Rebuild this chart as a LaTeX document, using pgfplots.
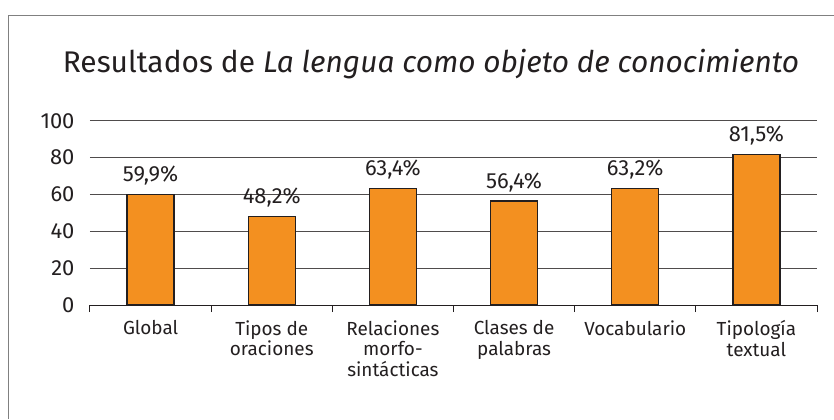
\documentclass[border=0pt]{standalone}
\usepackage{pgfplots}
\pgfplotsset{compat=1.18}
\usepackage{fontspec}
\setmainfont{Fira Sans}
\definecolor{barorange}{HTML}{F39020}
\definecolor{txt}{HTML}{231F20}
\begin{document}
\begin{tikzpicture}[x=1bp,y=1bp]
\useasboundingbox (-90,-114) rectangle (744,305);
\draw[gray, line width=1bp] (-81,-114) -- (-81,290) -- (744,290);
\node[anchor=base, font=\fontsize{30}{34}\selectfont, text=txt, inner sep=0pt] at (341,233) {Resultados de \textit{La lengua como objeto de conocimiento}};
\begin{axis}[
  at={(0,0)}, anchor=south west, scale only axis,
  width=727bp, height=184.3bp,
  ymin=0, ymax=100, ytick={0,20,...,100},
  xmin=-0.5, xmax=5.5,
  xtick={0,...,5},
  xticklabels={Global,Tipos de\\oraciones,Relaciones\\morfo-\\sintácticas,Clases de\\palabras,Vocabulario,Tipología\\textual},
  minor xtick={-0.5,0.5,...,5.5},
  major tick length=0pt, minor tick length=7bp,
  tick align=outside,
  axis x line*=bottom, axis y line*=left,
  y axis line style={draw=none},
  ytick style={draw=none},
  x axis line style={txt, line width=1bp},
  minor x tick style={txt, line width=1bp},
  ymajorgrids,
  grid style={txt!80, line width=0.8bp},
  ticklabel style={text=txt},
  /pgf/number format/assume math mode=true,
  xticklabel style={font=\fontsize{19}{20.5}\selectfont, align=center, anchor=north, yshift=-12bp},
  yticklabel style={font=\fontsize{22}{24}\selectfont, xshift=-12bp},
  ybar, bar width=47bp,
  point meta=explicit symbolic,
  nodes near coords,
  nodes near coords style={font=\fontsize{22}{24}\selectfont, text=txt, anchor=base, yshift=13bp},
  clip=false,
]
\addplot[fill=barorange, draw=txt, line width=1.3bp] coordinates {
  (0,59.9) [59,9\%]
  (1,48.2) [48,2\%]
  (2,63.4) [63,4\%]
  (3,56.4) [56,4\%]
  (4,63.2) [63,2\%]
  (5,81.5) [81,5\%]
};
\end{axis}
\end{tikzpicture}
\end{document}
